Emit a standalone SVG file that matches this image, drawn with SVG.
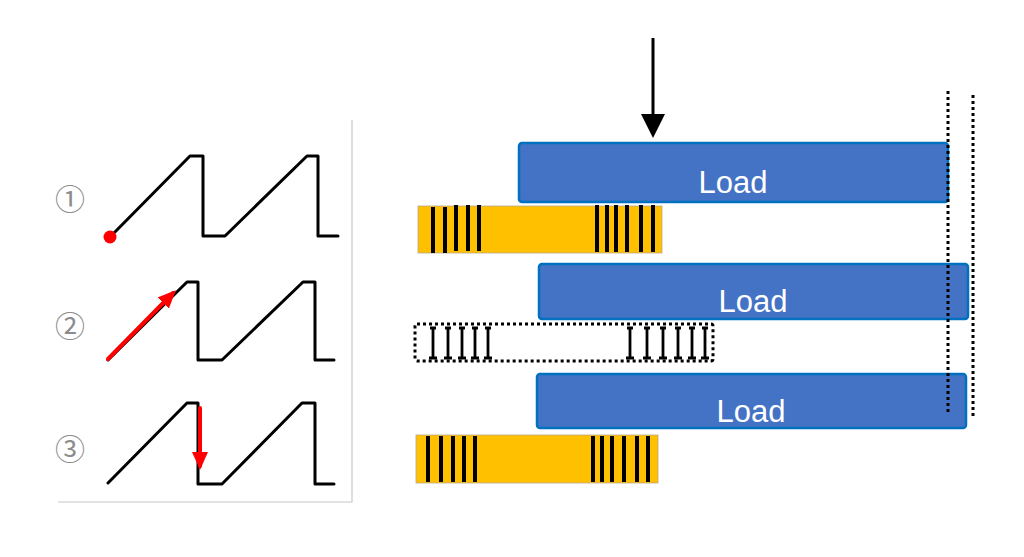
<svg xmlns="http://www.w3.org/2000/svg" width="1024" height="557" viewBox="0 0 1024 557">
<style>
.wave{fill:none;stroke:#000;stroke-width:3;stroke-linejoin:round;stroke-linecap:round}
.red{stroke:#ff0000;stroke-width:4;fill:none;stroke-linecap:round}
.num{font-family:"Noto Sans CJK JP","DejaVu Sans",sans-serif;font-size:30px;fill:#8c8c8c}
.load{fill:#4472C4;stroke:#0070C0;stroke-width:2.5}
.lt{font-family:"Liberation Sans",Arial,sans-serif;font-size:31px;fill:#fff;text-anchor:middle}
.bar{fill:#FFC000;stroke:#b8a98a;stroke-width:0.8}
.st{stroke:#000;stroke-width:4}
.dot{fill:none;stroke:#000;stroke-width:3;stroke-dasharray:3 3}
.dst{fill:none;stroke:#000;stroke-width:2.8}
</style>
<defs>
<marker id="ah" markerWidth="4.5" markerHeight="4" refX="3.5" refY="2" orient="auto" markerUnits="strokeWidth">
<path d="M0,0 L4.5,2 L0,4 Z" fill="#ff0000"/>
</marker>
</defs>
<rect width="1024" height="557" fill="#fff"/>
<g id="frame">
<path d="M352,120 L352,502 L58,502" fill="none" stroke="#c8c8c8" stroke-width="1.2"/>
</g>
<g id="wave1">
<text class="num" x="70" y="210" text-anchor="middle">①</text>
<path class="wave" d="M110,237 L190,156 L203,156 L203,236 L225,236 L307,156 L318,156 L318,236 L338,236"/>
<circle cx="110" cy="237" r="6.5" fill="#ff0000"/>
</g>
<g id="wave2">
<text class="num" x="70" y="337" text-anchor="middle">②</text>
<path class="wave" d="M108,360 L187,282 L198,282 L198,360 L222,360 L303,282 L315,282 L315,360 L334,360"/>
<line class="red" x1="108" y1="359" x2="173" y2="293" marker-end="url(#ah)"/>
</g>
<g id="wave3">
<text class="num" x="70" y="460" text-anchor="middle">③</text>
<path class="wave" d="M108,483 L187,403 L198,403 L198,484 L222,484 L302,403 L315,403 L315,484 L334,484"/>
<line class="red" x1="200" y1="408" x2="200" y2="466" marker-end="url(#ah)"/>
</g>
<g id="arrow-top">
<line x1="653" y1="38" x2="653" y2="118" stroke="#000" stroke-width="3"/>
<polygon points="641,114 665,114 653,138" fill="#000"/>
</g>
<g id="load1">
<rect class="load" x="519" y="143" width="429" height="59" rx="3"/>
<text class="lt" x="733" y="193">Load</text>
</g>
<g id="bar1">
<rect class="bar" x="418" y="206" width="244" height="47"/>
<g class="st">
<line x1="433" y1="207" x2="433" y2="253"/><line x1="445" y1="207" x2="445" y2="253"/><line x1="456" y1="205" x2="456" y2="251"/><line x1="468" y1="205" x2="468" y2="251"/><line x1="479" y1="205" x2="479" y2="251"/>
<line x1="597" y1="205" x2="597" y2="252"/><line x1="607" y1="205" x2="607" y2="252"/><line x1="616" y1="205" x2="616" y2="252"/><line x1="627" y1="205" x2="627" y2="252"/><line x1="641" y1="205" x2="641" y2="252"/><line x1="653" y1="205" x2="653" y2="252"/>
</g>
</g>
<g id="load2">
<rect class="load" x="539" y="264" width="429" height="55" rx="3"/>
<text class="lt" x="753" y="312">Load</text>
</g>
<g id="bar2">
<rect class="dot" x="415" y="324" width="298" height="37" rx="2"/>
<g class="dst">
<path d="M430,328 L436,328 M433,328 L433,357 M429,358 L437,358"/>
<path d="M445,328 L451,328 M448,328 L448,357 M444,358 L452,358"/>
<path d="M459,328 L465,328 M462,328 L462,357 M458,358 L466,358"/>
<path d="M472,328 L478,328 M475,328 L475,357 M471,358 L479,358"/>
<path d="M485,328 L491,328 M488,328 L488,357 M484,358 L492,358"/>
<path d="M627,328 L633,328 M630,328 L630,357 M626,358 L634,358"/>
<path d="M644,328 L650,328 M647,328 L647,357 M643,358 L651,358"/>
<path d="M660,328 L666,328 M663,328 L663,357 M659,358 L667,358"/>
<path d="M675,328 L681,328 M678,328 L678,357 M674,358 L682,358"/>
<path d="M689,328 L695,328 M692,328 L692,357 M688,358 L696,358"/>
<path d="M702,328 L708,328 M705,328 L705,357 M701,358 L709,358"/>
</g>
</g>
<g id="load3">
<rect class="load" x="537" y="374" width="429" height="54" rx="3"/>
<text class="lt" x="751" y="422">Load</text>
</g>
<g id="bar3">
<rect class="bar" x="416" y="435" width="242" height="48"/>
<g class="st">
<line x1="428" y1="436" x2="428" y2="482"/><line x1="441" y1="436" x2="441" y2="482"/><line x1="453" y1="436" x2="453" y2="482"/><line x1="464" y1="436" x2="464" y2="482"/><line x1="475" y1="436" x2="475" y2="482"/>
<line x1="593" y1="436" x2="593" y2="482"/><line x1="602" y1="436" x2="602" y2="482"/><line x1="612" y1="436" x2="612" y2="482"/><line x1="624" y1="436" x2="624" y2="482"/><line x1="637" y1="436" x2="637" y2="482"/><line x1="648" y1="436" x2="648" y2="482"/>
</g>
</g>
<g id="guides">
<line class="dot" x1="948" y1="91" x2="948" y2="413"/>
<line class="dot" x1="973" y1="95" x2="973" y2="417"/>
</g>
</svg>
